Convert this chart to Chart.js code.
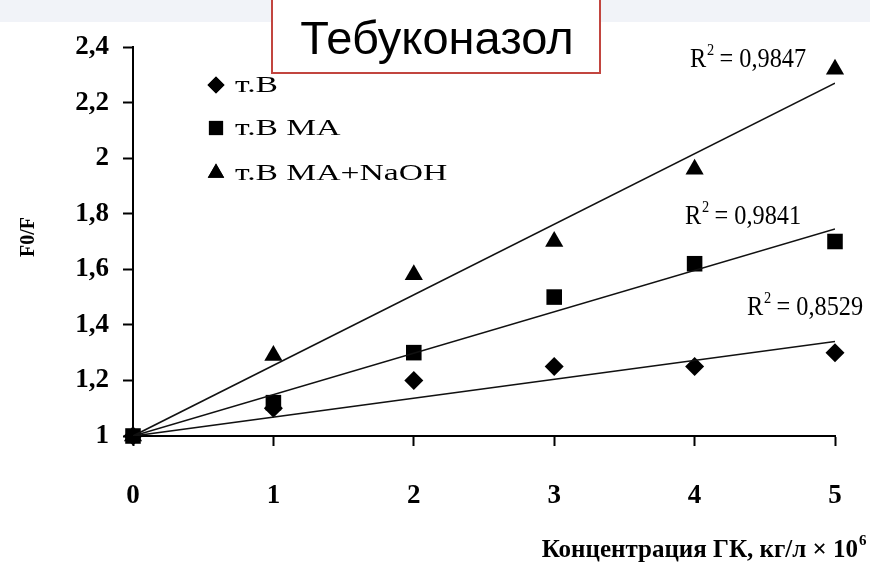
<!DOCTYPE html>
<html>
<head>
<meta charset="utf-8">
<script src="https://cdn.jsdelivr.net/npm/chart.js@4"></script>
<style>
  html, body { margin: 0; padding: 0; background: #fff; }
  #wrap { width: 870px; height: 574px; }
</style>
</head>
<body>
<div id="wrap"><canvas id="tebuChart" width="870" height="574"></canvas></div>
<script>
// concentration, kg/l x 10^6
const xValues = [0, 1, 2, 3, 4, 5];
// F0/F values per series
const seriesTV = [1, 1.10, 1.20, 1.25, 1.25, 1.30];
const seriesTVMA = [1, 1.12, 1.30, 1.50, 1.62, 1.70];
const seriesTVMANaOH = [1, 1.29, 1.58, 1.70, 1.96, 2.32];
const seriesLabels = ['т.В', 'т.В МА', 'т.В МА+NaOH'];
// trendlines: start at (0,1), end value at x = 5
const trendStart = [1, 1, 1];
const trendEnd = [1.34, 1.745, 2.27];
const r2Values = ['0,8529', '0,9841', '0,9847'];
const yTickValues = [1, 1.2, 1.4, 1.6, 1.8, 2, 2.2, 2.4];
const yTickLabels = ['1', '1,2', '1,4', '1,6', '1,8', '2', '2,2', '2,4'];
const xTickLabels = ['0', '1', '2', '3', '4', '5'];

const styles = ['rectRot', 'rect', 'triangle'];
const radii = [9.5, 11, 10.5];
const allSeries = [seriesTV, seriesTVMA, seriesTVMANaOH];

const datasets = [];
allSeries.forEach((s, i) => {
    datasets.push({
        label: 'trend' + i,
        type: 'line',
        data: [{ x: xValues[0], y: trendStart[i] }, { x: xValues[xValues.length - 1], y: trendEnd[i] }],
        borderColor: '#111',
        borderWidth: 1.6,
        pointRadius: 0,
        fill: false
    });
});
allSeries.forEach((s, i) => {
    datasets.push({
        label: seriesLabels[i],
        data: s.map((v, j) => ({ x: xValues[j], y: v })),
        pointStyle: styles[i],
        pointRadius: radii[i],
        backgroundColor: '#000',
        borderColor: '#000',
        borderWidth: 0,
        showLine: false,
        clip: false
    });
});

const SERIF = '"Liberation Serif", "Times New Roman", serif';

const decorations = {
    id: 'decorations',
    beforeDraw(chart) {
        const c = chart.ctx;
        c.save();
        c.fillStyle = '#fff';
        c.fillRect(0, 0, chart.width, chart.height);
        c.fillStyle = '#f1f3f8';
        c.fillRect(0, 0, chart.width, 22);
        c.restore();
    },
    afterDraw(chart) {
        const c = chart.ctx;
        c.save();

        // title box
        c.fillStyle = '#fff';
        c.fillRect(272, -2, 328, 75);
        c.strokeStyle = '#c2453f';
        c.lineWidth = 2;
        c.strokeRect(272, -2, 328, 75);
        c.fillStyle = '#000';
        c.font = '47px "Liberation Sans", Arial, sans-serif';
        c.textAlign = 'center';
        c.textBaseline = 'alphabetic';
        c.fillText('Тебуконазол', 437, 54);

        // legend
        const legendY = [85, 128, 173];
        const legendR = [8.5, 10, 9.5];
        seriesLabels.forEach((lab, i) => {
            c.fillStyle = '#000';
            Chart.helpers.drawPoint(c, { pointStyle: styles[i], radius: legendR[i], borderWidth: 0 }, 216, legendY[i]);
            c.fill();
            c.save();
            c.translate(235, legendY[i] + 1);
            c.scale(1.4, 1);
            c.font = '24px ' + SERIF;
            c.textAlign = 'left';
            c.textBaseline = 'middle';
            c.fillText(lab, 0, 0);
            c.restore();
        });

        // R^2 labels
        const r2Pos = [[747, 315], [685, 224], [690, 67]];
        r2Values.forEach((v, i) => {
            const [px, py] = r2Pos[i];
            c.save();
            c.translate(px, py);
            c.scale(0.9, 1);
            c.font = '27px ' + SERIF;
            c.textBaseline = 'alphabetic';
            c.textAlign = 'left';
            c.fillText('R', 0, 0);
            const rw = c.measureText('R').width;
            c.font = '16px ' + SERIF;
            c.fillText('2', rw + 1, -12);
            c.font = '27px ' + SERIF;
            c.fillText(' = ' + v, rw + 8, 0);
            c.restore();
        });

        // y axis title
        c.save();
        c.translate(29, 237);
        c.rotate(-Math.PI / 2);
        c.font = 'bold 20px ' + SERIF;
        c.textAlign = 'center';
        c.textBaseline = 'middle';
        c.fillText('F0/F', 0, 0);
        c.restore();

        // x axis title
        c.font = 'bold 25px ' + SERIF;
        c.textAlign = 'right';
        c.textBaseline = 'alphabetic';
        c.fillText('Концентрация ГК, кг/л × 10', 858, 557);
        c.font = 'bold 15px ' + SERIF;
        c.textAlign = 'left';
        c.fillText('6', 859, 545);

        c.restore();
    }
};

const ctx = document.getElementById('tebuChart').getContext('2d');
new Chart(ctx, {
    type: 'scatter',
    data: { datasets: datasets },
    options: {
        responsive: false,
        animation: false,
        devicePixelRatio: 1,
        layout: { padding: { top: 47, right: 35, left: 0, bottom: 0 } },
        plugins: {
            legend: { display: false },
            tooltip: { enabled: false }
        },
        scales: {
            x: {
                type: 'linear',
                min: 0,
                max: 5,
                afterFit: s => {
                    s.height = 138;
                    s.paddingLeft = 0;
                    s.paddingRight = 0;
                },
                afterBuildTicks: s => { s.ticks = xValues.map(v => ({ value: v })); },
                grid: { drawOnChartArea: false, tickLength: 10, color: '#000', tickWidth: 2 },
                border: { color: '#000', width: 2 },
                ticks: {
                    color: '#000',
                    padding: 34,
                    maxRotation: 0,
                    font: { family: SERIF, size: 27, weight: 'bold' },
                    callback: (v, i) => xTickLabels[i]
                }
            },
            y: {
                type: 'linear',
                min: 1,
                max: 2.4,
                afterFit: s => {
                    s.width = 133;
                    s.paddingTop = 0;
                    s.paddingBottom = 0;
                },
                afterBuildTicks: s => { s.ticks = yTickValues.map(v => ({ value: v })); },
                grid: { drawOnChartArea: false, tickLength: 10, color: '#000', tickWidth: 2 },
                border: { color: '#000', width: 2 },
                ticks: {
                    color: '#000',
                    padding: 14,
                    font: { family: SERIF, size: 27, weight: 'bold' },
                    callback: (v, i) => yTickLabels[i]
                }
            }
        }
    },
    plugins: [decorations]
});
</script>
</body>
</html>
